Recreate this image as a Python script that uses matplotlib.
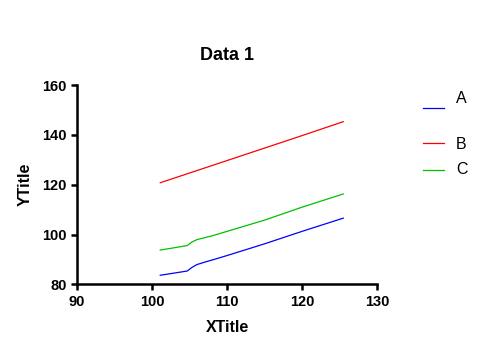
import matplotlib.pyplot as plt
from matplotlib.lines import Line2D

plt.rcParams['font.family'] = ['Liberation Sans', 'DejaVu Sans']

# data
x = [101.1, 104.7, 105.3, 106.0, 107.3, 108.0, 110.0, 115.0, 120.0, 125.5]
a = [83.7, 85.4, 86.8, 88.0, 89.2, 89.8, 91.6, 96.3, 101.3, 106.6]
b = [120.8, 124.4, 125.0, 125.7, 127.0, 127.7, 129.7, 134.7, 139.7, 145.3]
c = [93.8, 95.6, 97.0, 98.0, 99.0, 99.5, 101.3, 105.8, 111.0, 116.3]
names = ['A', 'B', 'C']
colors = ['#0000FF', '#FF0000', '#00C000']

fig = plt.figure(figsize=(5, 3.63), dpi=100)
ax = fig.add_axes([0.154, 0.2163, 0.6, 0.5495])

for ys, col in zip([a, b, c], colors):
    ax.plot(x, ys, color=col, linewidth=0.9)

ax.set_xlim(90, 130)
ax.set_ylim(80, 160)
ax.set_xticks([90, 100, 110, 120, 130])
ax.set_yticks([80, 100, 120, 140, 160])
for s in ['top', 'right']:
    ax.spines[s].set_visible(False)
for s in ['left', 'bottom']:
    ax.spines[s].set_linewidth(1.8)
ax.tick_params(width=1.8, length=4.5, labelsize=10.5, pad=3)
for lab in ax.get_xticklabels() + ax.get_yticklabels():
    lab.set_fontweight('bold')

ax.set_title('Data 1', fontsize=13, fontweight='bold', pad=18)
ax.set_xlabel('XTitle', fontsize=11.5, fontweight='bold', labelpad=8)
ax.set_ylabel('YTitle', fontsize=11.5, fontweight='bold', labelpad=7)

# legend drawn like the Prism one: lines and labels at fixed rows
line_y = [108.3, 143.3, 170.0]
text_y = [98.5, 145.0, 169.5]
for nm, col, ly, ty in zip(names, colors, line_y, text_y):
    fig.add_artist(Line2D([422.7 / 500, 444.3 / 500], [1 - ly / 363, 1 - ly / 363],
                          color=col, linewidth=0.9))
    fig.text(456 / 500, 1 - ty / 363, nm, fontsize=11.5, va='center', ha='left')

fig.savefig('out.png', dpi=100)
